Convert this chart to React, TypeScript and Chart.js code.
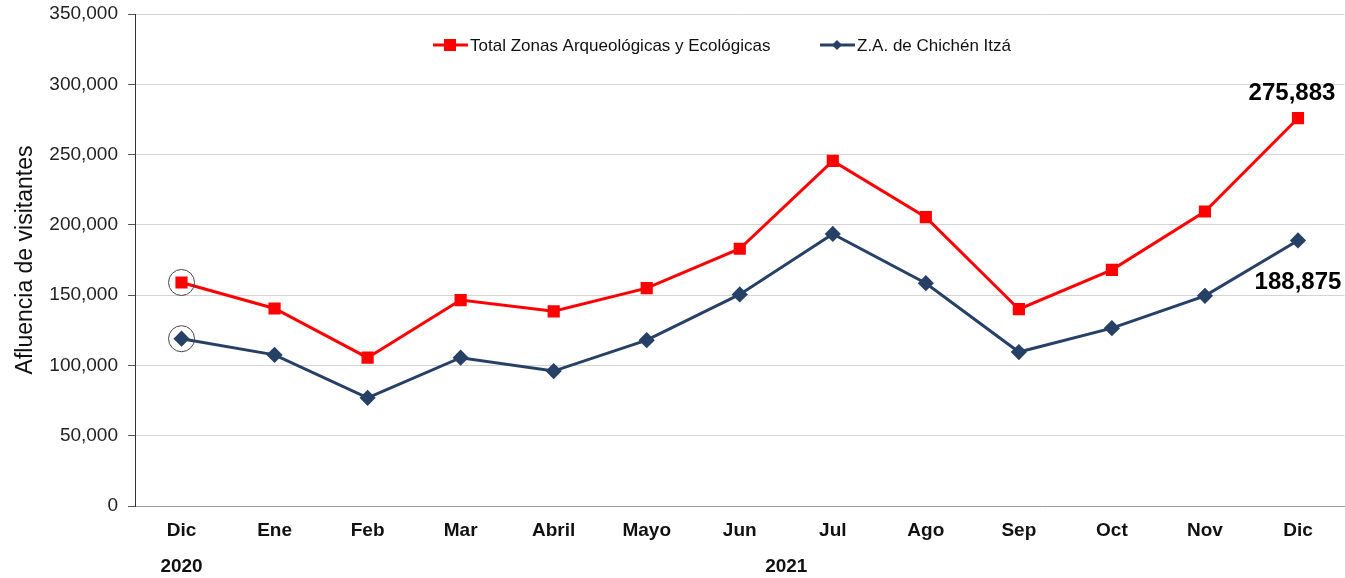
import React, { useEffect, useRef } from "react";
import { Chart, registerables } from "chart.js";

Chart.register(...registerables);

const months = ["Dic", "Ene", "Feb", "Mar", "Abril", "Mayo", "Jun", "Jul", "Ago", "Sep", "Oct", "Nov", "Dic"];
const years = [
  { label: "2020", from: 0, to: 0 },
  { label: "2021", from: 1, to: 12 },
];
const totalZonas = [159000, 140500, 105500, 146500, 138500, 155000, 183000, 245500, 205500, 140000, 168000, 209500, 275883];
const chichenItza = [119000, 107500, 77000, 105500, 96000, 118000, 150500, 193500, 158500, 109500, 126500, 149500, 188875];
const seriesNames = ["Total Zonas Arqueológicas y Ecológicas", "Z.A. de Chichén Itzá"];
const yTitle = "Afluencia de visitantes";

const RED = "#FF0000";
const NAVY = "#274166";
const FONT = "'Liberation Sans', Arial, sans-serif";

const extrasPlugin = {
  id: "extras",
  afterDraw(chart: any) {
    const ctx = chart.ctx;
    const area = chart.chartArea;
    const xs = chart.scales.x;
    ctx.save();

    // year labels
    ctx.fillStyle = "#111";
    ctx.font = `bold 19px ${FONT}`;
    ctx.textAlign = "center";
    ctx.textBaseline = "middle";
    years.forEach((y) => {
      const cx = (xs.getPixelForValue(y.from) + xs.getPixelForValue(y.to)) / 2;
      ctx.fillText(y.label, cx, 567);
    });

    // circles around first points
    [0, 1].forEach((di) => {
      const p = chart.getDatasetMeta(di).data[0];
      ctx.beginPath();
      ctx.strokeStyle = "#444";
      ctx.lineWidth = 1;
      ctx.arc(p.x, p.y, 13, 0, Math.PI * 2);
      ctx.stroke();
    });

    // end annotations
    const last = months.length - 1;
    const pr = chart.getDatasetMeta(0).data[last];
    const pb = chart.getDatasetMeta(1).data[last];
    ctx.fillStyle = "#000";
    ctx.font = `bold 24px ${FONT}`;
    ctx.textAlign = "center";
    ctx.fillText(totalZonas[last].toLocaleString("en-US"), pr.x - 6, pr.y - 25);
    ctx.fillText(chichenItza[last].toLocaleString("en-US"), pb.x, pb.y + 42);

    // legend
    ctx.font = `17px ${FONT}`;
    ctx.textAlign = "left";
    const ly = area.top + 31;
    const items = [
      { name: seriesNames[0], color: RED, style: "rect", x: 433 },
      { name: seriesNames[1], color: NAVY, style: "rectRot", x: 820 },
    ];
    items.forEach((it) => {
      ctx.strokeStyle = it.color;
      ctx.lineWidth = 3;
      ctx.beginPath();
      ctx.moveTo(it.x, ly);
      ctx.lineTo(it.x + 35, ly);
      ctx.stroke();
      ctx.fillStyle = it.color;
      const mx = it.x + 17;
      if (it.style === "rect") {
        ctx.fillRect(mx - 6, ly - 6, 12, 12);
      } else {
        ctx.beginPath();
        ctx.moveTo(mx, ly - 5);
        ctx.lineTo(mx + 5, ly);
        ctx.lineTo(mx, ly + 5);
        ctx.lineTo(mx - 5, ly);
        ctx.closePath();
        ctx.fill();
      }
      ctx.fillStyle = "#111";
      ctx.fillText(it.name, it.x + 37, ly + 1);
    });
    ctx.restore();
  },
};

export default function App() {
  const ref = useRef<HTMLCanvasElement>(null);
  useEffect(() => {
    if (!ref.current) return;
    const chart = new Chart(ref.current, {
      type: "line",
      data: {
        labels: months,
        datasets: [
          {
            label: seriesNames[0],
            data: totalZonas,
            borderColor: RED,
            backgroundColor: RED,
            borderWidth: 3,
            pointStyle: "rect",
            pointRadius: 6.5,
            pointHoverRadius: 6.5,
            tension: 0,
          },
          {
            label: seriesNames[1],
            data: chichenItza,
            borderColor: NAVY,
            backgroundColor: NAVY,
            borderWidth: 3,
            pointStyle: "rectRot",
            pointRadius: 6,
            pointHoverRadius: 6,
            tension: 0,
          },
        ],
      },
      options: {
        animation: false,
        responsive: true,
        maintainAspectRatio: false,
        layout: { padding: { top: 14, right: 1, left: 0, bottom: 0 } },
        plugins: { legend: { display: false }, tooltip: { enabled: false } },
        scales: {
          x: {
            offset: true,
            grid: { display: false, drawTicks: false },
            border: { display: true, color: "#9a9a9a", width: 1 },
            ticks: { color: "#111", font: { family: FONT, size: 19, weight: "bold" }, padding: 13, maxRotation: 0 },
            afterFit: (s: any) => {
              s.height = 72;
              s.paddingLeft = 0;
              s.paddingRight = 0;
            },
          },
          y: {
            min: 0,
            max: 350000,
            ticks: {
              stepSize: 50000,
              color: "#222",
              padding: 10,
              font: { family: FONT, size: 19 },
              callback: (v: any) => Number(v).toLocaleString("en-US"),
            },
            grid: { color: "#d4d4d4", tickLength: 7, tickColor: "#555", lineWidth: 1 },
            border: { display: true, color: "#333", width: 1 },
            title: {
              display: true,
              text: yTitle,
              color: "#111",
              font: { family: FONT, size: 23 },
              padding: { top: 12, bottom: 0 },
            },
            afterFit: (s: any) => {
              s.width = 135;
              s.paddingTop = 0;
              s.paddingBottom = 0;
            },
          },
        },
      },
      plugins: [extrasPlugin],
    });
    return () => chart.destroy();
  }, []);
  return (
    <div style={{ position: "fixed", left: 0, top: 0, width: 1345, height: 578, overflow: "hidden", background: "#fff" }}>
      <div style={{ position: "absolute", left: 0, top: 0, width: 1354, height: 578 }}>
        <canvas ref={ref} />
      </div>
    </div>
  );
}
